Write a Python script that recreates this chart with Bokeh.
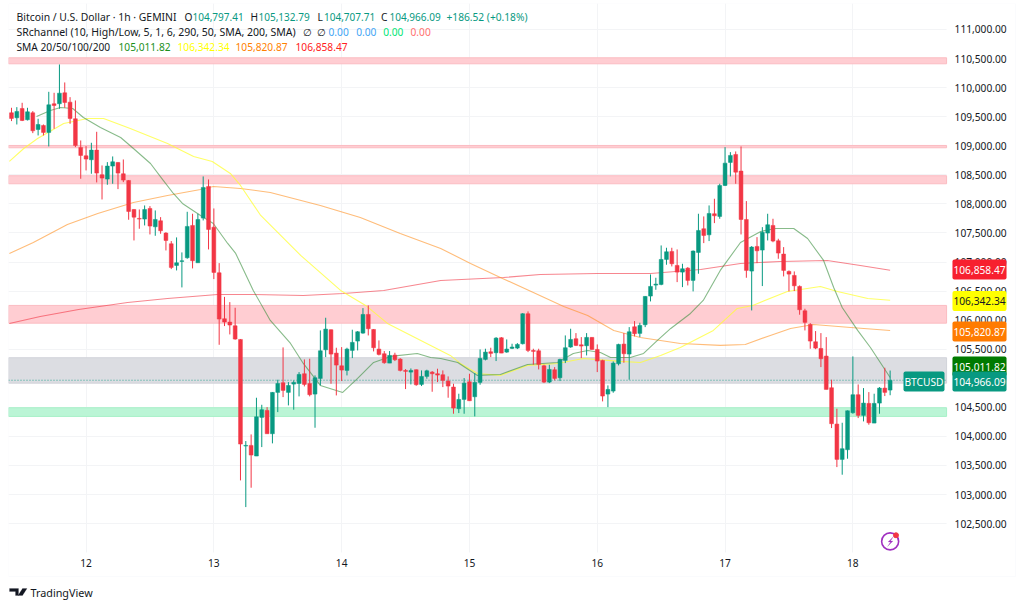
from bokeh.plotting import figure
from bokeh.embed import file_html
from bokeh.resources import INLINE
from bokeh.models import FixedTicker, Label, PolyAnnotation, BoxAnnotation, Range1d, NumeralTickFormatter

opens = [109567,109481,109641,109447,109567,109280,109349,109229,109722,109722,109911,109750,109464,108971,108827,108759,108925,108501,108426,108650,
108713,108518,108403,107904,107750,107738,107921,107606,107709,107497,107314,106941,107010,107073,107629,106987,107755,108300,107600,106815,
106024,105966,105903,105668,103834,103845,103662,104327,104447,104046,104757,104923,104757,104900,104911,105078,104911,104728,104997,105490,
105835,105433,105215,105135,105479,105640,105777,106098,105840,105502,105422,105261,105399,105330,105135,105106,105147,104894,105032,105106,
105078,105061,104952,104849,104476,104636,104940,104682,104929,105324,105456,105439,105697,105450,105514,105519,105594,106110,105479,105473,
105215,104934,105147,105009,105307,105537,105680,105576,105559,105703,105496,105307,104728,104780,105250,105588,105416,105886,105772,105921,
106414,106603,106614,107044,107182,106941,106826,106895,106683,107165,107572,107468,107830,107784,108317,108713,108850,108564,107732,106844,
107268,107205,107497,107629,107365,107136,106838,106769,106580,106161,105926,105628,105513,105382,104837,104212,103604,103771,104407,104717,
104361,104568,104229,104573,104831,104797]
highs = [109653,109664,109739,109653,109596,109464,109366,109928,109911,110398,110089,109836,109779,109091,108994,109051,109240,108661,108718,108816,
108718,108764,108409,107910,107904,107973,107962,107887,107772,107514,107360,107423,107165,107864,107830,107830,108472,108420,107921,106981,
106400,106310,106213,105674,103920,104034,104665,104544,104504,104762,104975,105531,104934,104963,105106,105324,105336,105049,105823,106041,
105840,105525,105536,105525,105835,105812,106207,106253,105846,105651,105468,105468,105439,105347,105158,105169,105152,105135,105147,105124,
105164,105135,105032,104906,104734,105003,105078,105089,105496,105508,105525,105708,105708,105668,105594,105605,106121,106150,105508,105508,
105233,105233,105192,105336,105737,105852,105777,105708,105777,105708,105582,105319,104877,105290,105594,105777,105880,105984,105955,106414,
106786,106729,107285,107245,107245,107216,106970,106912,107199,107830,107784,107973,108088,108346,108976,108890,108902,108988,108048,107274,
107428,107600,107830,107744,107400,107256,106855,106838,106597,106196,105949,105812,105777,105708,104975,104476,104235,104447,105376,104894,
104831,104762,104734,104848,105181,105133]
lows = [109424,109366,109424,109435,109217,109177,109177,108988,109292,109636,109653,109378,108976,108432,108575,108518,108369,108076,108329,108346,
108254,108374,107727,107371,107572,107629,107474,107451,107486,107199,106878,106855,106563,107056,106890,106987,107715,107216,106706,105576,
105898,105754,105663,103243,102784,103117,103662,103816,104046,103880,104418,104676,104533,104459,104688,104860,104688,104149,104877,105364,
104906,104705,104952,105049,105347,105479,105766,105737,105462,105393,105250,105261,105296,105118,104814,104894,104871,104866,104992,104768,
104934,104848,104665,104390,104401,104390,104613,104344,104889,105307,105364,105296,105433,105439,105502,105502,105582,105450,105233,105152,
104917,104917,104963,104952,105261,105525,105554,105347,105393,105490,105106,104602,104504,104751,105221,105267,104975,105720,105708,105880,
106322,106522,106600,106953,106924,106654,106568,106597,106494,106798,107325,107360,107669,107744,108306,108472,108346,107474,106729,106167,
106981,106586,107371,107340,107056,106752,106494,106500,106093,105823,105508,105500,105192,104808,104143,103472,103341,103616,104390,104315,
104258,104201,104229,104390,104694,104708]
closes = [109469,109590,109435,109584,109257,109366,109229,109704,109693,109905,109745,109469,109005,108833,108770,108925,108529,108443,108650,108724,
108529,108409,107870,107772,107738,107904,107618,107732,107537,107371,106907,106987,107021,107612,107021,107732,108283,107560,106821,106018,
105966,105915,105674,103868,103845,103679,104338,104459,104046,104757,104911,104791,104877,104929,105066,104894,104717,105009,105473,105846,
105416,105227,105141,105502,105617,105800,106098,105852,105525,105410,105267,105393,105319,105135,105118,105135,104889,105032,105129,105078,
105055,104963,104866,104487,104636,104917,104613,104929,105341,105450,105428,105691,105433,105502,105537,105582,106110,105479,105462,105238,
104934,105152,104997,105324,105525,105668,105565,105554,105703,105496,105296,104694,104808,105261,105582,105422,105800,105766,105909,106408,
106580,106620,107044,107176,106970,106826,106884,106683,107188,107543,107457,107835,107795,108317,108701,108833,108546,107732,106855,107256,
107193,107514,107641,107360,107153,106855,106792,106591,106179,105961,105640,105519,105336,104808,104218,103604,103788,104441,104717,104361,
104573,104235,104568,104831,104757,104966]

sma20_t = [4.7,7.3,9.2,11.5,13.5,16.7,20.5,22.9,26.1,28.5,30.4,32.1,35.5,37.9,40.6,42.1,43,45.4,48.6,52.4,54.8,58,62.2,65,68,71.2,76.2,78.7,80.6,83.8,87.5,91.8,96.9,102.5,105.5,108.2,110.6,112.5,116.2,118.7,121.3,123.8,127.5,129.9,133.1,136.9,140.7,143.5,146.9,149.5,152.5,154.4,156,158.9,161.3,165]
sma20_v = [109504,109607,109658,109641,109486,109314,109142,108953,108695,108403,108179,108007,107801,107663,107319,107147,106975,106511,105995,105599,105255,104877,104756,104997,105272,105376,105427,105358,105341,105272,105049,105066,105238,105272,105427,105479,105444,105358,105358,105427,105651,105857,106115,106339,106855,107336,107526,107577,107577,107405,107027,106562,106218,105823,105530,105012]
sma50_t = [-0.4,2.3,4.9,9.8,14.3,17.3,22.3,29.3,34.2,37.7,41.1,43,46.8,54.3,61.8,66.5,70.6,82.4,84.3,87.5,91.8,96.9,102.5,107.4,114.4,118.1,121.9,125.6,131.8,136.3,139.2,145.7,151.9,155.1,160.8,165]
sma50_v = [108730,108953,109125,109383,109469,109469,109297,109039,108816,108730,108523,108317,107801,107113,106511,106253,105943,105393,105255,105083,105049,105221,105255,105341,105290,105272,105393,105530,105823,106201,106253,106494,106580,106494,106373,106342]
sma100_t = [-0.4,4.1,10.5,16.2,22.9,29.3,35.5,37.9,43,48.6,58,65.5,73,80.6,86.2,91.8,98,103.7,108.2,113.1,118.1,125.6,133.1,137.8,142.5,146.3,150.6,157.6,165]
sma100_v = [107147,107336,107646,107835,108024,108145,108248,108300,108265,108196,107973,107766,107491,107233,106975,106734,106476,106236,106081,105823,105702,105599,105565,105582,105737,105857,105926,105874,105821]
sma200_t = [-0.4,5.4,12.6,21.8,29.3,38.7,45.4,54.8,62.3,69.9,80.6,92.4,99.3,110,120,129.4,136.9,144.4,153.2,159.4,165]
sma200_v = [105943,106064,106184,106304,106373,106442,106442,106425,106459,106511,106683,106734,106786,106803,106803,106872,106975,107010,107027,106941,106858]

zone_top = [110513,109005,108484,106253,105353,104493]
zone_bot = [110410,108965,108346,105948,104916,104344]
zone_col = ["#ffcdd2","#ffcdd2","#ffcdd2","#ffcdd2","#dcdde2","#bbf5d6"]
zone_line = ["#fbbcc2","#fbbcc2","#fbbcc2","#fbbcc2","#d1d3d9","#a6f0c8"]

price_ticks = list(range(102500, 111001, 500))
day_hours = [14, 38, 62, 86, 110, 134, 158]
day_labels = ["12", "13", "14", "15", "16", "17", "18"]

UP, DOWN = "#089981", "#f23645"
FONT = "Noto Sans"
AX = "#131722"
FS = 10.2

X0, X_AXIS, X1 = -0.563, 175.6, 188.73
Y_TOP, Y_AXIS, Y_BOT = 111447, 102002, 101177

p = figure(width=1016, height=600, output_backend="svg", toolbar_location=None,
           x_range=Range1d(X0, X1), y_range=Range1d(Y_BOT, Y_TOP),
           min_border_left=8, min_border_top=3, min_border_right=0, min_border_bottom=0,
           y_axis_location="right", outline_line_color=None, background_fill_color="white")

p.yaxis.ticker = FixedTicker(ticks=price_ticks)
p.yaxis.formatter = NumeralTickFormatter(format="0,0.00")
p.xaxis.ticker = FixedTicker(ticks=day_hours)
p.xaxis.major_label_overrides = dict(zip(day_hours, day_labels))
for ax in (p.xaxis[0], p.yaxis[0]):
    ax.axis_line_color = None
    ax.major_tick_line_color = None
    ax.minor_tick_line_color = None
    ax.major_tick_out = 0
    ax.major_tick_in = 0
    ax.major_label_text_color = AX
    ax.major_label_text_font = FONT
    ax.major_label_text_font_size = f"{FS}px"
p.yaxis.fixed_location = X_AXIS
p.xaxis.fixed_location = Y_AXIS
p.yaxis.major_label_standoff = 8
p.xaxis.major_label_standoff = 6
p.grid.grid_line_color = "#f3f4f6"
p.grid.grid_line_width = 1

# blank strips that hold the axes
p.quad(left=X_AXIS, right=X1, top=Y_TOP, bottom=Y_BOT, fill_color="white", line_color=None)
p.quad(left=X0, right=X1, top=Y_AXIS, bottom=Y_BOT, fill_color="white", line_color=None)

# zones
p.quad(left=X0, right=X_AXIS, top=zone_top, bottom=zone_bot, fill_color=zone_col, line_color=zone_line, line_width=1)

# last price line
p.line([X0, X_AXIS], [closes[-1], closes[-1]], line_color=UP, line_dash=[1, 2], line_width=1, line_alpha=0.8)

# SMA lines
for t, v, c, a in [(sma200_t, sma200_v, "#f23645", 0.6), (sma100_t, sma100_v, "#ff9020", 0.6),
                   (sma50_t, sma50_v, "#ffff33", 0.75), (sma20_t, sma20_v, "#388e3c", 0.6)]:
    p.line(t, v, line_color=c, line_width=1.1, line_alpha=a, line_join="round")

# candles
idx = list(range(len(opens)))
cols = [UP if c >= o else DOWN for o, c in zip(opens, closes)]
p.segment(idx, highs, idx, lows, line_color=cols, line_width=1)
p.vbar(x=idx, width=0.72, top=[max(o, c) for o, c in zip(opens, closes)],
       bottom=[min(o, c) for o, c in zip(opens, closes)], fill_color=cols, line_color=cols, line_width=0.5)

def px(x): return x - 8
def py(y): return 600 - y

def txt(x, y, text, color=AX, size=FS, align="left", **kw):
    p.add_layout(Label(x=px(x), y=py(y), x_units="screen", y_units="screen", text=text, text_color=color,
                       text_font=FONT, text_font_size=f"{size}px", text_align=align, text_baseline="middle",
                       level="overlay", **kw))

# legend rows
txt(16, 16, "Bitcoin / U.S. Dollar · 1h · GEMINI", size=10.4)
for x, letter, xv, val in [(184, "O", 192, "104,797.41"), (250, "H", 258, "105,132.79"),
                           (317, "L", 323.5, "104,707.71"), (380.5, "C", 389, "104,966.09")]:
    txt(x, 16, letter)
    txt(xv, 16, val, UP, size=10)
txt(446, 16, "+186.52 (+0.18%)", UP)
txt(16, 31, "SRchannel (10, High/Low, 5, 1, 6, 290, 50, SMA, 200, SMA)", size=10.5)
txt(302, 31, "∅")
txt(316, 31, "∅")
for x, c in [(328, "#42a5f5"), (355.7, "#42a5f5"), (382.7, "#00e676"), (410, "#ff7070")]:
    txt(x, 31, "0.00", c)
txt(16, 46, "SMA 20/50/100/200")
for x, val, c in [(118, "105,011.82", "#1b8f1b"), (177, "106,342.34", "#ffff00"),
                  (235, "105,820.87", "#ff8000"), (295, "106,858.47", "#ff2020")]:
    txt(x, 46, val, c)

# price tags
for yy, text, bg, fg in [(269, "106,858.47", "#f7202f", "white"), (300.5, "106,342.34", "#ffff00", AX),
                         (331, "105,820.87", "#ff7b00", "white"), (366, "105,011.82", "#007a00", "white"),
                         (381, "104,966.09", UP, "white")]:
    txt(979, yy, text, fg, align="center", background_fill_color=bg, padding=(1, 6), border_radius=2)
txt(923.5, 381, "BTCUSD", "white", align="center", background_fill_color=UP, padding=(1, 3), border_radius=2)

# frame
p.add_layout(BoxAnnotation(left=px(8), right=px(1015), top=py(3), bottom=py(576), left_units="screen", right_units="screen",
                           top_units="screen", bottom_units="screen", fill_alpha=0, line_color="#f0f3fa", line_width=1, level="overlay"))

# bolt icon
ICON_X, ICON_Y = 165.0, 102194
p.scatter([ICON_X], [ICON_Y], size=17, marker="circle", fill_color="white", line_color="#a030c0", line_width=1.6)
p.scatter([ICON_X + 1.1], [ICON_Y + 105], size=5, marker="circle", fill_color="#f23645", line_color="#f23645")
bx = [893, 887.5, 890, 887, 892.5, 890]
by = [536, 541.5, 541.5, 546, 540.5, 540.5]
p.add_layout(PolyAnnotation(xs=[px(a) for a in bx], ys=[py(b) for b in by], xs_units="screen", ys_units="screen",
                            fill_color="#a030c0", fill_alpha=1, line_color="#a030c0", line_width=0.5, level="overlay"))

# TradingView mark
t_x = [9, 18, 18, 15, 15, 12, 12, 9]
t_y = [588, 588, 595, 595, 591, 591, 591, 591]
v_x = [22, 26.5, 22, 17.5]
v_y = [588, 588, 595, 595]
for xs_, ys_ in [(t_x, t_y), (v_x, v_y)]:
    p.add_layout(PolyAnnotation(xs=[px(a) for a in xs_], ys=[py(b) for b in ys_], xs_units="screen", ys_units="screen",
                                fill_color=AX, fill_alpha=1, line_color=AX, line_width=0.5, level="overlay"))
txt(30, 592, "TradingView", "#131722", 10.8)

open("out.html", "w").write(file_html(p, INLINE))
